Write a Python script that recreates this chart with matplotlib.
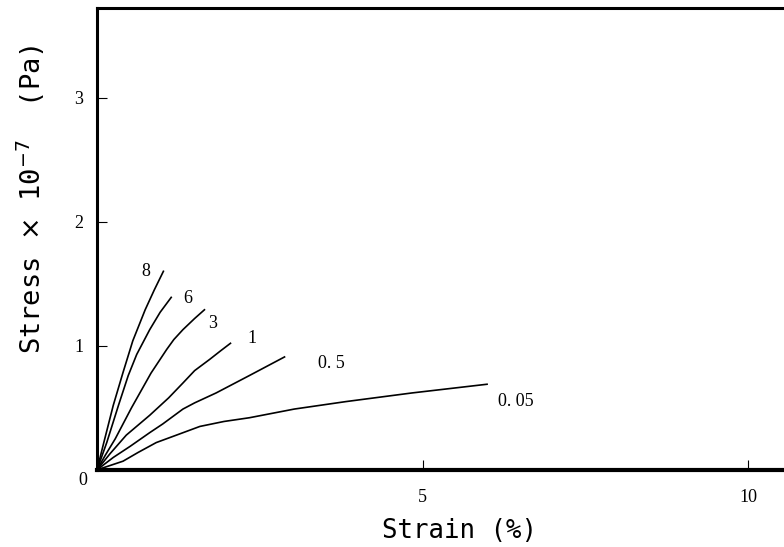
import matplotlib.pyplot as plt

# courbes contrainte-deformation, valeurs
strain_8 = [0, 0.10, 0.25, 0.40, 0.55, 0.74, 0.88, 1.02]
stress_8 = [0, 0.21, 0.52, 0.785, 1.04, 1.29, 1.45, 1.60]

strain_6 = [0, 0.15, 0.33, 0.48, 0.61, 0.72, 0.81, 0.97, 1.14]
stress_6 = [0, 0.22, 0.52, 0.76, 0.93, 1.04, 1.13, 1.27, 1.39]

strain_3 = [0, 0.13, 0.28, 0.53, 0.83, 1.07, 1.18, 1.32, 1.50, 1.65]
stress_3 = [0, 0.12, 0.25, 0.50, 0.78, 0.97, 1.05, 1.13, 1.22, 1.29]

strain_1 = [0, 0.20, 0.45, 0.81, 1.10, 1.32, 1.50, 1.73, 1.90, 2.05]
stress_1 = [0, 0.13, 0.28, 0.44, 0.58, 0.70, 0.80, 0.89, 0.96, 1.02]

strain_05 = [0, 0.25, 0.51, 0.81, 1.01, 1.32, 1.50, 1.83, 2.34, 2.88]
stress_05 = [0, 0.10, 0.19, 0.30, 0.37, 0.49, 0.54, 0.62, 0.76, 0.91]

strain_005 = [0, 0.40, 0.63, 0.91, 1.22, 1.58, 1.95, 2.34, 3.03, 3.82, 4.84, 5.99]
stress_005 = [0, 0.07, 0.14, 0.22, 0.28, 0.35, 0.39, 0.42, 0.49, 0.55, 0.62, 0.69]

curve_labels = ['8', '6', '3', '1', '0.5', '0.05']
label_x = [0.75, 1.39, 1.77, 2.38, 3.60, 6.43]
label_y = [1.60, 1.38, 1.18, 1.06, 0.86, 0.55]

fig = plt.figure(figsize=(7.84, 5.47), dpi=100)
ax = fig.add_axes([0.1237, 0.141, 0.8763, 0.844])

for xs, ys in [(strain_8, stress_8), (strain_6, stress_6), (strain_3, stress_3),
               (strain_1, stress_1), (strain_05, stress_05), (strain_005, stress_005)]:
    ax.plot(xs, ys, color='black', lw=1.2)

for lab, lx, ly in zip(curve_labels, label_x, label_y):
    ax.text(lx, ly, lab.replace('.', '. '), fontsize=13, family='Liberation Serif',
            ha='center', va='center')

ax.set_xlim(0, 10.55)
ax.set_ylim(0, 3.72)
ax.set_xticks([5, 10])
ax.set_xticklabels(['5', '10'], family='Liberation Serif', fontsize=13)
ax.set_yticks([1, 2, 3])
ax.set_yticklabels(['1', '2', '3'], family='Liberation Serif', fontsize=13)
ax.tick_params(direction='in', length=7, width=0.8)
ax.tick_params(axis='x', pad=14)
ax.tick_params(axis='y', pad=10)
ax.text(-0.014, -0.005, '0', transform=ax.transAxes, family='Liberation Serif',
        fontsize=13, ha='right', va='top')

ax.spines['right'].set_visible(False)
ax.spines['left'].set_linewidth(2.2)
ax.spines['top'].set_linewidth(2.2)
ax.spines['bottom'].set_linewidth(3.0)

ax.set_xlabel('Strain (%)', family='DejaVu Sans Mono', fontsize=18.5)
ax.xaxis.set_label_coords(0.528, -0.105)
ax.set_ylabel(r'Stress $\times$ 10$^{-7}$  (Pa)', family='DejaVu Sans Mono',
              fontsize=19.5)
ax.yaxis.set_label_coords(-0.073, 0.585)

plt.savefig('out.png', dpi=100)
